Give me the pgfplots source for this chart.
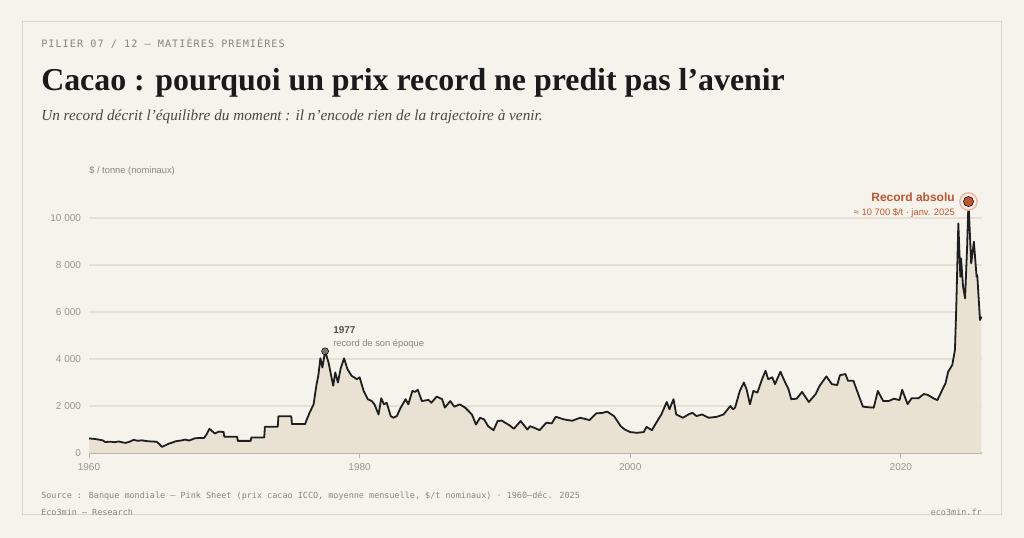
\documentclass[border=0pt]{standalone}
\usepackage{pgfplots}
\pgfplotsset{compat=1.18}
\usepackage{pgfplotstable}
\usepackage{fontspec}
\setmainfont{Liberation Sans}
\newfontfamily\serif{Liberation Serif}
\newfontfamily\mono{DejaVu Sans Mono}
\newfontfamily\monosp[LetterSpace=10]{DejaVu Sans Mono}
\definecolor{bg}{HTML}{F6F3EC}
\definecolor{bord}{HTML}{DDD6C6}
\definecolor{areaf}{HTML}{E9E2D3}
\definecolor{gridc}{HTML}{E6E0D4}
\definecolor{basec}{HTML}{BDB6A8}
\definecolor{ticktxt}{HTML}{9A948A}
\definecolor{linec}{HTML}{1E1E1E}
\definecolor{rec}{HTML}{C0562F}
\definecolor{recl}{HTML}{E8B7A3}
\definecolor{kick}{HTML}{8A857C}
\definecolor{titc}{HTML}{1A1A1A}
\definecolor{subc}{HTML}{4A4742}
\definecolor{annc}{HTML}{555250}
\definecolor{anng}{HTML}{8A857C}

\pgfplotstableread{
year value
1960.0 620
1960.4 600
1960.7 570
1961.0 540
1961.2 470
1961.6 480
1961.9 460
1962.2 490
1962.5 450
1962.7 430
1963.0 480
1963.3 560
1963.6 520
1963.9 540
1964.2 510
1964.6 490
1965.0 480
1965.2 380
1965.4 260
1965.7 340
1965.9 400
1966.2 450
1966.4 500
1966.8 530
1967.1 570
1967.4 530
1967.8 620
1968.1 640
1968.5 640
1968.7 800
1968.9 1030
1969.1 930
1969.3 830
1969.6 910
1969.95 890
1970.0 690
1970.95 690
1971.0 515
1971.95 515
1972.0 660
1972.95 660
1973.0 1115
1973.95 1115
1974.0 1560
1974.95 1560
1975.0 1230
1975.97 1230
1976.1 1430
1976.3 1710
1976.6 2070
1976.8 2860
1976.95 3300
1977.1 4030
1977.25 3640
1977.45 4330
1977.7 3860
1977.9 3290
1978.05 2860
1978.2 3430
1978.4 3000
1978.6 3600
1978.85 4030
1979.1 3570
1979.4 3290
1979.8 3140
1980.0 3220
1980.3 2640
1980.6 2290
1980.9 2210
1981.1 2070
1981.4 1640
1981.6 2330
1981.8 2070
1982.0 2140
1982.3 1570
1982.5 1500
1982.75 1570
1983.0 1890
1983.4 2290
1983.6 2070
1983.9 2640
1984.1 2600
1984.3 2690
1984.6 2210
1985.1 2260
1985.3 2140
1985.7 2400
1986.1 2290
1986.3 1930
1986.7 2210
1987.0 1970
1987.4 2070
1987.8 1930
1988.3 1640
1988.6 1210
1988.9 1500
1989.2 1430
1989.5 1140
1989.9 970
1990.2 1360
1990.5 1380
1990.75 1290
1991.1 1170
1991.4 1030
1991.9 1360
1992.4 1000
1992.6 1140
1993.0 1050
1993.3 970
1993.8 1290
1994.2 1260
1994.5 1540
1995.1 1430
1995.7 1370
1996.3 1500
1997.0 1400
1997.5 1690
1997.9 1700
1998.3 1760
1998.8 1570
1999.3 1140
1999.6 1000
2000.0 890
2000.5 860
2001.0 890
2001.2 1110
2001.6 970
2002.0 1360
2002.3 1640
2002.7 2170
2002.9 1860
2003.2 2290
2003.4 1640
2003.9 1500
2004.3 1640
2004.6 1710
2004.9 1570
2005.3 1640
2005.8 1500
2006.4 1540
2006.9 1640
2007.4 2000
2007.6 1860
2007.75 1930
2008.1 2640
2008.4 3000
2008.6 2710
2008.85 2070
2009.1 2640
2009.4 2570
2009.7 3070
2010.0 3500
2010.2 3140
2010.5 3220
2010.7 2930
2011.1 3460
2011.4 3070
2011.7 2710
2011.9 2290
2012.3 2310
2012.7 2600
2013.2 2170
2013.7 2500
2014.0 2860
2014.5 3260
2014.9 2930
2015.3 2890
2015.5 3310
2015.9 3360
2016.1 3070
2016.5 3070
2016.9 2430
2017.2 1970
2017.7 1940
2018.0 1930
2018.3 2640
2018.7 2210
2019.1 2210
2019.5 2310
2019.9 2250
2020.1 2690
2020.5 2080
2020.8 2330
2021.3 2330
2021.7 2510
2022.0 2470
2022.4 2330
2022.7 2250
2023.0 2610
2023.3 2960
2023.5 3460
2023.8 3740
2024.0 4380
2024.1 6230
2024.25 9770
2024.4 7500
2024.45 8280
2024.6 7080
2024.75 6580
2024.9 8780
2025.0 10700
2025.2 8070
2025.4 8990
2025.6 7500
2025.65 7570
2025.85 5660
2025.96 5800
}\cacao

\begin{document}
\begin{tikzpicture}[x=0.75pt,y=0.75pt]
\fill[bg] (0,0) rectangle (1024,538);
\draw[bord, line width=0.75pt] (22,516) rectangle (1001,23);

% header
\node[anchor=base west, inner sep=0pt, text=kick] at (41,490.5)
  {\monosp\fontsize{7.65pt}{9pt}\selectfont PILIER 07 / 12 — MATIÈRES PREMIÈRES};
\node[anchor=base west, inner sep=0pt, text=titc] at (41,447)
  {\serif\bfseries\fontsize{23.9pt}{28pt}\selectfont Cacao : pourquoi un prix record ne predit pas l’avenir};
\node[anchor=base west, inner sep=0pt, text=subc] at (41,417)
  {\serif\itshape\fontsize{11.45pt}{14pt}\selectfont Un record décrit l’équilibre du moment : il n’encode rien de la trajectoire à venir.};
\node[anchor=base west, inner sep=0pt, text=anng] at (89,364.5)
  {\fontsize{7pt}{8pt}\selectfont \$ / tonne (nominaux)};

\begin{axis}[
  at={(66.75pt,63.75pt)}, anchor=south west,
  scale only axis, width=669.75pt, height=193.875pt,
  xmin=1960, xmax=2026, ymin=0, ymax=11000,
  clip=false,
  axis x line=bottom, axis y line=left,
  x axis line style={draw=basec, line width=0.9pt, -},
  y axis line style={draw=none},
  xtick={1960,1980,2000,2020},
  xticklabels={1960,1980,2000,2020},
  ytick={0,2000,4000,6000,8000,10000},
  yticklabels={0,2 000,4 000,6 000,8 000,10 000},
  scaled y ticks=false, scaled x ticks=false,
  tick align=outside,
  major tick length=3.5pt,
  xtick style={draw=basec, line width=0.75pt},
  ytick style={draw=none},
  ymajorgrids, grid style={draw=gridc, line width=0.9pt},
  tick label style={font=\fontsize{7.5pt}{9pt}\selectfont, text=ticktxt},
  yticklabel style={inner sep=0pt, xshift=-2.3pt},
  xticklabel style={inner sep=0pt, yshift=-4pt},
  /pgf/number format/assume math mode=true,
]
\addplot[fill=areaf, draw=none] table[x=year,y=value] {\cacao} \closedcycle;
\addplot[draw=linec, line width=1.35pt, line join=round] table[x=year,y=value] {\cacao};
\addplot[only marks, mark=*, mark size=2.6pt, mark options={fill=annc!80, draw=none}] coordinates {(1977.45,4330)};
\addplot[only marks, mark=*, mark size=6.5pt, mark options={fill=rec!12, draw=recl, line width=1pt}] coordinates {(2025.0,10700)};
\addplot[only marks, mark=*, mark size=3.8pt, mark options={fill=rec, draw=none}] coordinates {(2025.0,10700)};
\end{axis}

% annotations
\node[anchor=base west, inner sep=0pt, text=annc] at (333,204)
  {\bfseries\fontsize{7.5pt}{9pt}\selectfont 1977};
\node[anchor=base west, inner sep=0pt, text=anng] at (333,191.5)
  {\fontsize{7pt}{8pt}\selectfont record de son époque};
\node[anchor=base east, inner sep=0pt, text=rec] at (955,336.5)
  {\bfseries\fontsize{9pt}{11pt}\selectfont Record absolu};
\node[anchor=base east, inner sep=0pt, text=rec] at (955,322.5)
  {\fontsize{7pt}{8pt}\selectfont ≈ 10 700 \$/t · janv. 2025};

% footer
\node[anchor=base west, inner sep=0pt, text=anng] at (41,39)
  {\mono\fontsize{6.35pt}{8pt}\selectfont Source : Banque mondiale — Pink Sheet (prix cacao ICCO, moyenne mensuelle, \$/t nominaux) · 1960–déc. 2025};
\node[anchor=base west, inner sep=0pt, text=anng] at (41,22)
  {\mono\fontsize{6.35pt}{8pt}\selectfont Eco3min — Research};
\node[anchor=base east, inner sep=0pt, text=anng] at (982,22)
  {\mono\fontsize{6.35pt}{8pt}\selectfont eco3min.fr};

\pgfresetboundingbox
\path (0,0) rectangle (1024,538);
\end{tikzpicture}
\end{document}
